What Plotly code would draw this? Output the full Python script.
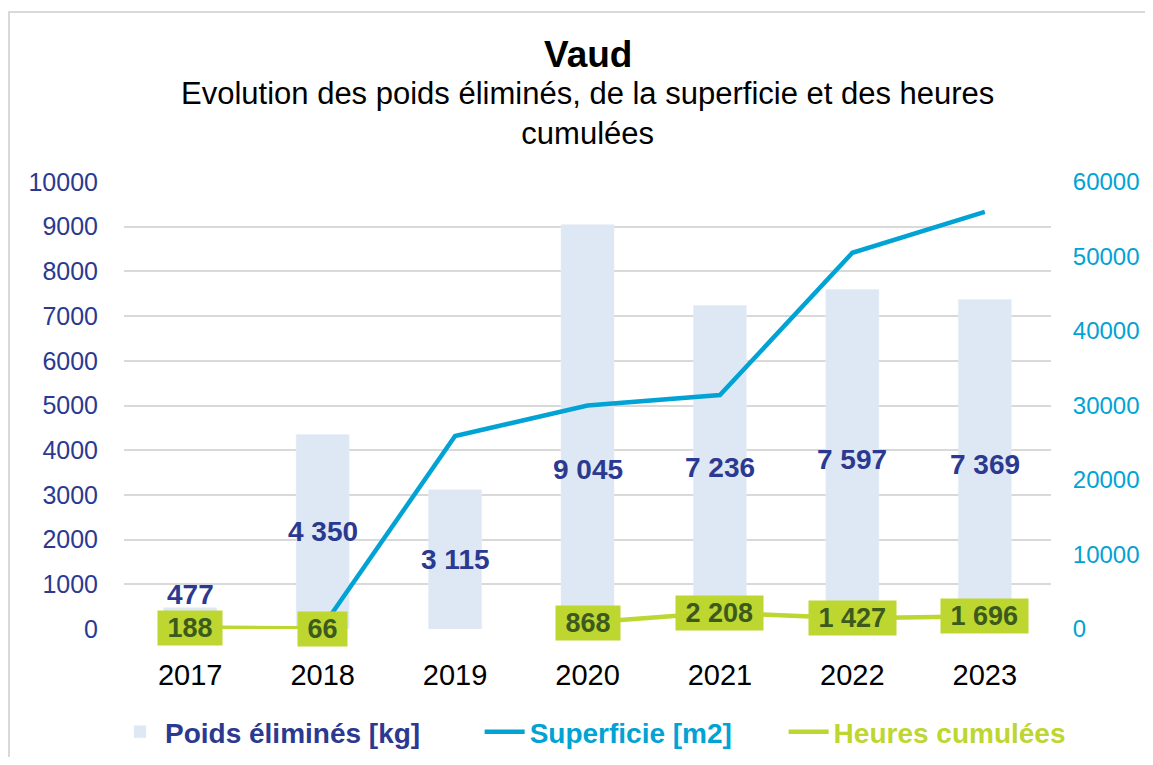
import plotly.graph_objects as go

years = ['2017', '2018', '2019', '2020', '2021', '2022', '2023']
poids = [477, 4350, 3115, 9045, 7236, 7597, 7369]
superficie = [None, 300, 25900, 30000, 31400, 50500, 56000]
heures = [188, 66, None, 868, 2208, 1427, 1696]
left_ticks = list(range(0, 10001, 1000))
right_ticks = list(range(0, 60001, 10000))

NAVY = '#2b3990'
CYAN = '#00a3d4'
LIME = '#bdd630'
DKGREEN = '#3c5a1e'
BARC = '#dde8f4'
FONT = 'Liberation Sans, Arial, sans-serif'

OFF = 8  # page body margin
W, H = 1153 - 2 * OFF, 765 - 2 * OFF
L, T = 124 - OFF, 182 - OFF
R = W - (1051 - OFF)
B = H - (629 - OFF)
pw, ph = W - L - R, H - T - B


def py(pix):
    return (H - B - (pix - OFF)) / ph


def px(pix):
    return (pix - OFF - L) / pw


def fmt(v):
    return f"{v:,}".replace(",", " ")


fig = go.Figure()
fig.add_trace(go.Bar(x=years, y=poids, marker_color=BARC, width=0.4,
                     name=f"<b><span style='color:{NAVY}'>Poids éliminés [kg]</span></b>" + '&nbsp;' * 7,
                     hoverinfo='skip'))
fig.add_trace(go.Scatter(x=years, y=superficie, mode='lines', yaxis='y2',
                         line=dict(color=CYAN, width=4.5), connectgaps=False,
                         name=f"<b><span style='color:{CYAN}'>Superficie [m2]</span></b>" + '&nbsp;' * 6))
fig.add_trace(go.Scatter(x=years, y=heures, mode='lines', yaxis='y2',
                         line=dict(color=LIME, width=4.5), connectgaps=False,
                         name=f"<b><span style='color:{LIME}'>Heures cumulées</span></b>"))

shift = {'2020': -43}
for i, (yr, v) in enumerate(zip(years, poids)):
    if v < 1000:
        fig.add_annotation(x=i, y=v, xref='x', yref='y', text=f"<b>{fmt(v)}</b>",
                           showarrow=False, yanchor='bottom', yshift=-4,
                           font=dict(family=FONT, size=28, color=NAVY))
    else:
        fig.add_annotation(x=i, y=v / 2, xref='x', yref='y', text=f"<b>{fmt(v)}</b>",
                           showarrow=False, yshift=shift.get(yr, 0),
                           font=dict(family=FONT, size=28, color=NAVY))
for i, v in enumerate(heures):
    if v is None:
        continue
    fig.add_annotation(x=i, y=v, xref='x', yref='y2',
                       text=f"&nbsp;<b>{fmt(v)}</b>&nbsp;",
                       showarrow=False, bgcolor=LIME, borderpad=2,
                       font=dict(family=FONT, size=27, color=DKGREEN))

fig.add_annotation(x=0.5, y=py(55), xref='paper', yref='paper', yanchor='middle',
                   text='<b>Vaud</b>', showarrow=False,
                   font=dict(family=FONT, size=37, color='black'))
fig.add_annotation(x=0.5, y=py(114), xref='paper', yref='paper', yanchor='middle',
                   text='Evolution des poids éliminés, de la superficie et des heures<br>cumulées',
                   showarrow=False, font=dict(family=FONT, size=31, color='black'))

fig.update_layout(
    width=W, height=H,
    margin=dict(l=L, r=R, t=T, b=B, autoexpand=False),
    paper_bgcolor='white', plot_bgcolor='white',
    showlegend=True,
    legend=dict(orientation='h', x=px(115), xanchor='left', y=py(732), yanchor='middle',
                font=dict(family=FONT, size=28), itemwidth=40, traceorder='normal'),
    xaxis=dict(type='category', categoryorder='array', categoryarray=years,
               range=[-0.5, len(years) - 0.5], autorange=False,
               tickfont=dict(family=FONT, size=29, color='black'),
               showgrid=False, showline=False, ticks='outside', ticklen=20,
               tickcolor='rgba(0,0,0,0)'),
    yaxis=dict(range=[0, 10000], autorange=False, tickvals=left_ticks,
               ticktext=[str(t) for t in left_ticks],
               showgrid=True, gridcolor='#d9d9d9', gridwidth=2, zeroline=False,
               tickfont=dict(family=FONT, size=25, color=NAVY),
               ticks='outside', ticklen=20, tickcolor='rgba(0,0,0,0)', showline=False),
    yaxis2=dict(range=[0, 60000], autorange=False, tickvals=right_ticks,
                ticktext=[str(t) for t in right_ticks],
                overlaying='y', side='right', showgrid=False, zeroline=False,
                tickfont=dict(family=FONT, size=24, color=CYAN),
                ticks='outside', ticklen=16, tickcolor='rgba(0,0,0,0)', showline=False),
    shapes=[dict(type='rect', xref='paper', yref='paper',
                 x0=px(9), x1=px(1180), y0=py(790), y1=py(12),
                 line=dict(color='#d9d9d9', width=2), fillcolor='rgba(0,0,0,0)',
                 layer='below')],
)

fig.write_html('out.html')
